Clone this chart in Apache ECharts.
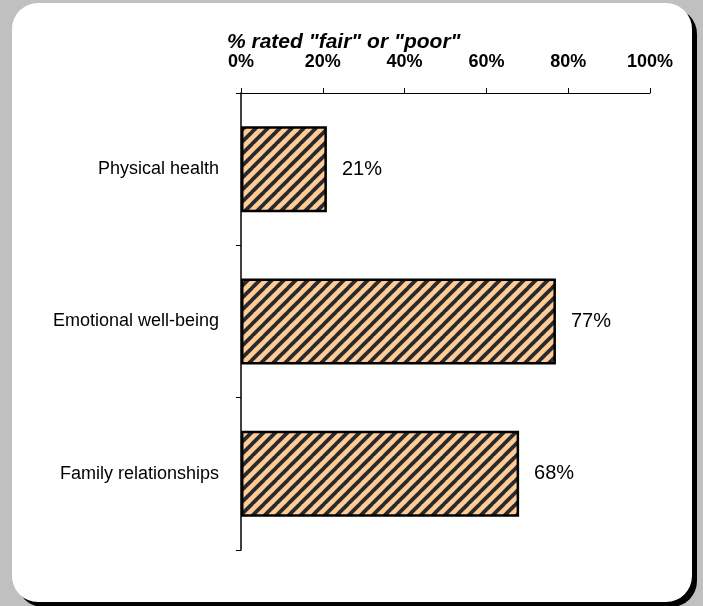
<!DOCTYPE html>
<html>
<head>
<meta charset="utf-8">
<script src="https://cdn.jsdelivr.net/npm/echarts@6/dist/echarts.min.js"></script>
<style>html,body{margin:0;padding:0;background:#c0c0c0;}#c{width:703px;height:606px;}</style>
</head>
<body>
<div id="c"></div>
<script>
const categories = ['Physical health', 'Emotional well-being', 'Family relationships'];
const values = [21, 77, 68];
const xTicks = [0, 20, 40, 60, 80, 100];
const axisTitle = '% rated "fair" or "poor"';

const tile = document.createElement('canvas');
tile.width = 12; tile.height = 12;
const ctx = tile.getContext('2d');
ctx.fillStyle = '#ffcc99';
ctx.fillRect(0, 0, 12, 12);
ctx.strokeStyle = '#2a2a2a';
ctx.lineWidth = 3.8;
for (const k of [-12, 0, 12]) {
  ctx.beginPath();
  ctx.moveTo(k - 1, 13);
  ctx.lineTo(k + 13, -1);
  ctx.stroke();
}

const chart = echarts.init(document.getElementById('c'), null, {renderer: 'canvas'});
chart.setOption({
  backgroundColor: '#c0c0c0',
  animation: false,
  graphic: [
    {type: 'rect', z: -10, shape: {x: 17, y: 8, width: 680, height: 599, r: 26}, style: {fill: '#000'}},
    {type: 'rect', z: -9, shape: {x: 12, y: 3, width: 680, height: 599, r: 26}, style: {fill: '#fff'}}
  ],
  title: {
    text: axisTitle,
    left: 222, top: 27,
    textStyle: {fontFamily: 'Liberation Sans', fontSize: 21, fontWeight: 'bold', fontStyle: 'italic', color: '#000'}
  },
  grid: {left: 241, top: 93, right: 53, bottom: 56},
  xAxis: {
    type: 'value', position: 'top', min: xTicks[0], max: xTicks[xTicks.length - 1], interval: 20,
    splitLine: {show: false},
    axisLine: {show: true, lineStyle: {color: '#000', width: 1}},
    axisTick: {show: true, length: 5, lineStyle: {color: '#000'}},
    axisLabel: {formatter: '{value}%', margin: 22, fontFamily: 'Liberation Sans', fontSize: 18, fontWeight: 'bold', color: '#000'}
  },
  yAxis: {
    type: 'category', data: categories, inverse: true,
    axisLine: {show: true, lineStyle: {color: '#000', width: 1.5}},
    axisTick: {show: true, length: 5, lineStyle: {color: '#000'}},
    axisLabel: {margin: 22, fontFamily: 'Liberation Sans', fontSize: 18, color: '#000'}
  },
  series: [{
    type: 'bar', data: values, barWidth: 86,
    itemStyle: {color: {image: tile, repeat: 'repeat'}, borderColor: '#000', borderWidth: 2.5},
    label: {show: true, position: 'right', distance: 15, formatter: '{c}%', fontFamily: 'Liberation Sans', fontSize: 20, color: '#000'}
  }]
});
</script>
</body>
</html>
